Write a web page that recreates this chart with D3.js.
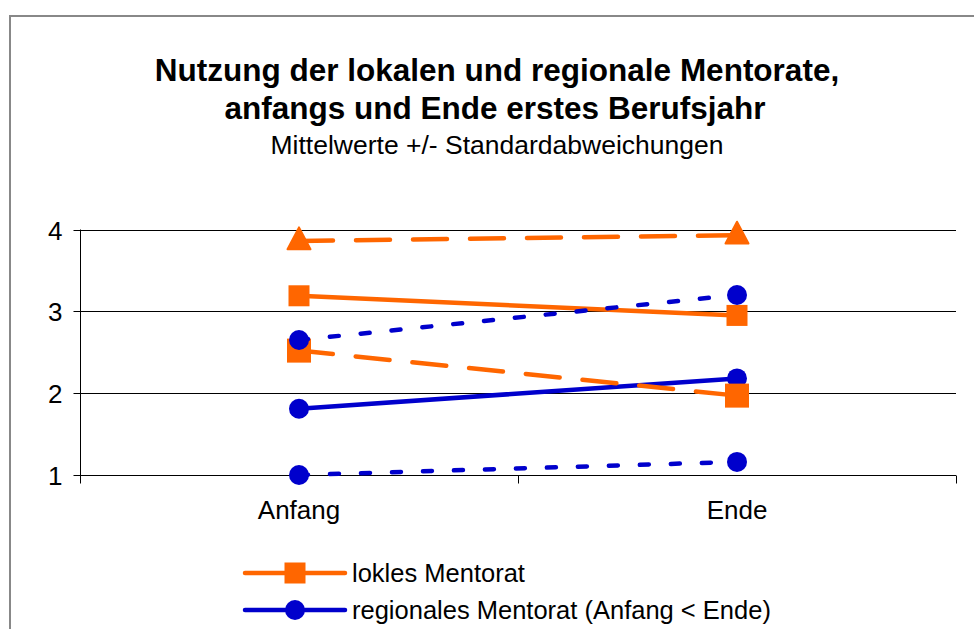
<!DOCTYPE html>
<html>
<head>
<meta charset="utf-8">
<script src="https://cdn.jsdelivr.net/npm/d3@7"></script>
<style>
  html, body { margin: 0; padding: 0; background: #fff; }
  svg { display: block; font-family: "Liberation Sans", Arial, sans-serif; }
</style>
</head>
<body>
<svg id="chart" width="974" height="629"></svg>
<script>
// ---- data ----
const categories = ["Anfang", "Ende"];
const lokalMean = [3.19, 2.95];
const lokalPlusSD = [3.86, 3.93];
const lokalMinusSD = [2.52, 1.97];
const regionalMean = [1.81, 2.18];
const regionalPlusSD = [2.65, 3.20];
const regionalMinusSD = [1.00, 1.16];
const yTicks = [1, 2, 3, 4];
const titleLines = ["Nutzung der lokalen und regionale Mentorate,", "anfangs und Ende erstes Berufsjahr"];
const subtitle = "Mittelwerte +/- Standardabweichungen";
const legendLabels = ["lokles Mentorat", "regionales Mentorat (Anfang < Ende)"];

const ORANGE = "#FF6600", BLUE = "#0000CC";
const series = [
  { values: lokalMean,       color: ORANGE, dash: null,    marker: "square",   size: 21 },
  { values: regionalMean,    color: BLUE,   dash: null,    marker: "circle",   size: 20 },
  { values: lokalPlusSD,     color: ORANGE, dash: "34,23", marker: "triangle", size: 23 },
  { values: lokalMinusSD,    color: ORANGE, dash: "34,23", marker: "square",   size: 24 },
  { values: regionalPlusSD,  color: BLUE,   dash: "9,22",  marker: "circle",   size: 20 },
  { values: regionalMinusSD, color: BLUE,   dash: "9,22",  marker: "circle",   size: 20 }
];

const svg = d3.select("#chart");

// frame
svg.append("rect").attr("x", 10).attr("y", 16).attr("width", 1000).attr("height", 700)
  .attr("fill", "#fff").attr("stroke", "#888").attr("stroke-width", 2);

// titles
svg.append("text").attr("x", 497).attr("y", 81).attr("text-anchor", "middle")
  .attr("font-size", 31.5).attr("font-weight", "bold").text(titleLines[0]);
svg.append("text").attr("x", 495).attr("y", 119).attr("text-anchor", "middle")
  .attr("font-size", 31.5).attr("font-weight", "bold").text(titleLines[1]);
svg.append("text").attr("x", 497).attr("y", 154).attr("text-anchor", "middle")
  .attr("font-size", 26.5).text(subtitle);

// scales
const plotLeft = 80, plotRight = 956, plotTop = 229.5, plotBottom = 475;
const x = d3.scalePoint().domain(categories).range([plotLeft, plotRight]).padding(0.5);
const xBand = d3.scaleBand().domain(categories).range([plotLeft, plotRight]);
const y = d3.scaleLinear().domain([1, 4]).range([plotBottom, plotTop]);

// gridlines
svg.append("g").selectAll("line").data(yTicks.filter(d => d > 1)).join("line")
  .attr("x1", plotLeft).attr("x2", plotRight)
  .attr("y1", d => Math.round(y(d)) + 0.5).attr("y2", d => Math.round(y(d)) + 0.5)
  .attr("stroke", "#000").attr("stroke-width", 1);

// y axis
const yAxis = svg.append("g").attr("transform", `translate(${plotLeft + 0.5},0)`)
  .call(d3.axisLeft(y).tickValues(yTicks).tickSize(7).tickPadding(11).tickFormat(d3.format("d")));
yAxis.select(".domain").attr("d", `M0,${plotTop}V${plotBottom + 8}`).attr("stroke", "#000");
yAxis.selectAll(".tick line").attr("stroke", "#000");
yAxis.selectAll(".tick").attr("transform", d => `translate(0,${Math.round(y(d)) + 0.5})`);
yAxis.selectAll(".tick text").attr("font-size", 26).attr("font-family", "Liberation Sans, Arial, sans-serif")
  .attr("fill", "#000").attr("dy", "0.35em");

// x axis
const xAxis = svg.append("g").attr("transform", `translate(0,${Math.round(plotBottom) + 0.5})`);
xAxis.append("line").attr("x1", plotLeft).attr("x2", plotRight).attr("stroke", "#000");
const boundaries = [plotLeft].concat(categories.map(c => xBand(c) + xBand.bandwidth()));
xAxis.selectAll(".xt").data(boundaries).join("line").attr("class", "xt")
  .attr("x1", d => Math.round(d) + 0.5).attr("x2", d => Math.round(d) + 0.5)
  .attr("y1", 0).attr("y2", 8).attr("stroke", "#000");
xAxis.selectAll(".xl").data(categories).join("text").attr("class", "xl")
  .attr("x", d => x(d)).attr("y", 43).attr("text-anchor", "middle")
  .attr("font-size", 26).text(d => d);

// marker drawing
function drawMarker(g, type, size, color, cx, cy) {
  if (type === "square") {
    g.append("rect").attr("x", cx - size / 2).attr("y", cy - size / 2)
      .attr("width", size).attr("height", size).attr("fill", color);
  } else if (type === "circle") {
    g.append("circle").attr("cx", cx).attr("cy", cy).attr("r", size / 2).attr("fill", color);
  } else if (type === "triangle") {
    const h = size * 0.95;
    g.append("path").attr("d", `M${cx},${cy - h * 0.62}L${cx + size / 2},${cy + h * 0.38}L${cx - size / 2},${cy + h * 0.38}Z`)
      .attr("fill", color).attr("stroke", color).attr("stroke-linejoin", "round").attr("stroke-width", 2);
  }
}

const line = d3.line().x((d, i) => x(categories[i])).y(d => y(d));
series.forEach(s => {
  const g = svg.append("g");
  g.append("path").attr("d", line(s.values)).attr("fill", "none")
    .attr("stroke", s.color).attr("stroke-width", 4.5).attr("stroke-linecap", "round")
    .attr("stroke-dasharray", s.dash);
  s.values.forEach((v, i) => drawMarker(g, s.marker, s.size, s.color, x(categories[i]), y(v)));
});

// legend
const legendItems = [series[0], series[1]];
const legendRows = [573, 610];
legendItems.forEach((s, i) => {
  const g = svg.append("g");
  const cy = legendRows[i];
  g.append("line").attr("x1", 245).attr("x2", 345).attr("y1", cy).attr("y2", cy)
    .attr("stroke", s.color).attr("stroke-width", 4.5).attr("stroke-linecap", "round");
  drawMarker(g, s.marker, s.size, s.color, 295, cy);
  g.append("text").attr("x", 352).attr("y", cy + 9).attr("font-size", 25.5)
    .text(legendLabels[i]);
});
</script>
</body>
</html>
